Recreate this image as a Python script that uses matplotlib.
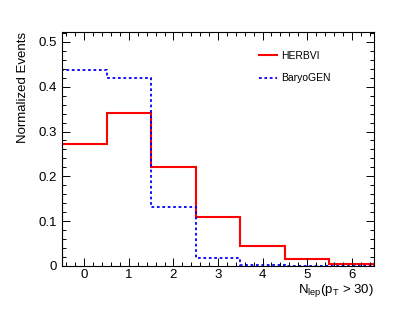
import numpy as np
import matplotlib
matplotlib.use('Agg')
import matplotlib.pyplot as plt
from matplotlib.ticker import MultipleLocator

plt.rcParams['font.family'] = ['Liberation Sans', 'DejaVu Sans']

bins = [0, 1, 2, 3, 4, 5, 6]
herbvi = [0.273, 0.341, 0.221, 0.110, 0.045, 0.015, 0.0045]
baryogen = [0.4375, 0.420, 0.132, 0.0185, 0.002, 0.001, 0.001]

edges = np.array(bins + [bins[-1] + 1]) - 0.5

fig = plt.figure(figsize=(4.15, 3.13), dpi=100)
ax = fig.add_axes([62 / 415, 1 - 266 / 313, 312 / 415, 234 / 313])

ax.stairs(herbvi, edges, color='#ff0000', lw=1.5, label='HERBVI')
ax.stairs(baryogen, edges, color='#0000ff', lw=1.3, ls=(0, (1.5, 1.5)), label='BaryoGEN')

ax.set_xlim(-0.5, 6.5)
ax.set_ylim(0, 0.522)
ax.xaxis.set_major_locator(MultipleLocator(1))
ax.xaxis.set_minor_locator(MultipleLocator(0.2))
ax.yaxis.set_major_locator(MultipleLocator(0.1))
ax.yaxis.set_minor_locator(MultipleLocator(0.02))
ax.set_yticks([0, 0.1, 0.2, 0.3, 0.4, 0.5])
ax.set_yticklabels(['0', '0.1', '0.2', '0.3', '0.4', '0.5'])
ax.tick_params(which='both', direction='in', top=True, right=True, labelsize=9.5, width=0.7)
ax.tick_params(which='major', length=6)
ax.tick_params(which='minor', length=3)
ax.tick_params(axis='x', pad=2)
for s in ax.spines.values():
    s.set_linewidth(0.8)

ax.set_ylabel('Normalized Events', fontsize=9.5, loc='top', labelpad=7)
ax.set_xlabel(r'N$_{\mathregular{lep}}$(p$_{\mathregular{T}}$ > 30)', fontsize=9.5, loc='right', labelpad=1)

ax.legend(loc='upper left', bbox_to_anchor=(0.6, 0.96), frameon=False, fontsize=7.5,
          handlelength=1.8, labelspacing=1.2, handletextpad=0.4)

fig.savefig('out.png', dpi=100)
